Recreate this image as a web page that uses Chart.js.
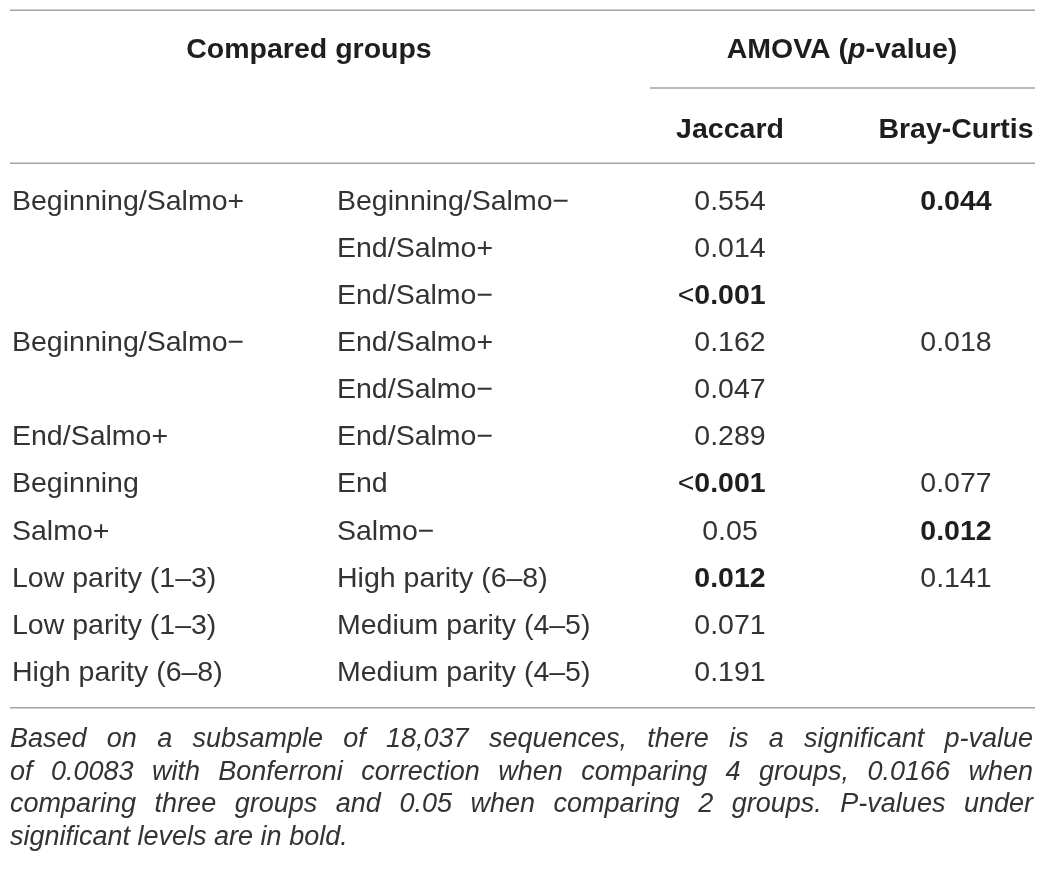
<!DOCTYPE html>
<html>
<head>
<meta charset="utf-8">
<script src="https://cdn.jsdelivr.net/npm/chart.js@4.4.1/dist/chart.umd.min.js"></script>
<style>
  html, body { margin: 0; padding: 0; background: #fff; }
  canvas { display: block; }
</style>
</head>
<body>
<canvas id="amova_table" width="1051" height="874"></canvas>
<script>
// table content
const groupA = ['Beginning/Salmo+', '', '', 'Beginning/Salmo\u2212', '', 'End/Salmo+', 'Beginning', 'Salmo+',
  'Low parity (1\u20133)', 'Low parity (1\u20133)', 'High parity (6\u20138)'];
const groupB = ['Beginning/Salmo\u2212', 'End/Salmo+', 'End/Salmo\u2212', 'End/Salmo+', 'End/Salmo\u2212', 'End/Salmo\u2212',
  'End', 'Salmo\u2212', 'High parity (6\u20138)', 'Medium parity (4\u20135)', 'Medium parity (4\u20135)'];
const jaccard = ['0.554', '0.014', '<0.001', '0.162', '0.047', '0.289', '<0.001', '0.05', '0.012', '0.071', '0.191'];
const jaccardBold = [false, false, true, false, false, false, true, false, true, false, false];
const brayCurtis = ['0.044', null, null, '0.018', null, null, '0.077', '0.012', '0.141', null, null];
const brayCurtisBold = [true, false, false, false, false, false, false, true, false, false, false];
const columnTitles = ['Jaccard', 'Bray-Curtis'];
const footnote = [
  'Based on a subsample of 18,037 sequences, there is a significant p-value',
  'of 0.0083 with Bonferroni correction when comparing 4 groups, 0.0166 when',
  'comparing three groups and 0.05 when comparing 2 groups. P-values under',
  'significant levels are in bold.'
];

const FONT = '"Liberation Sans", Arial, Helvetica, sans-serif';
const SIZE = 28.5;
const NOTE_SIZE = 27;
const INK = '#333333';
const INK_BOLD = '#1e1e1e';
const RULE = '#a3a3a3';
const TEXT_DY = 2;

// x scale runs in page pixels, y scale in table rows
const COL_A = 12, COL_B = 337, COL_J = 730, COL_BC = 956;
const LEFT = 10, RIGHT = 1035;
const ROW_H = 47.1, FIRST_ROW = 200;

function cells(values, bold, x) {
  const out = [];
  values.forEach((v, i) => {
    if (v !== null) out.push({ x: x, y: i, label: v, bold: bold[i] });
  });
  return out;
}

function hline(ctx, x0, x1, y) {
  ctx.beginPath();
  ctx.moveTo(x0, y);
  ctx.lineTo(x1, y);
  ctx.stroke();
}

function justify(ctx, line, x0, x1, y, last) {
  ctx.textAlign = 'left';
  if (last) { ctx.fillText(line, x0, y); return; }
  const words = line.split(' ');
  const used = words.reduce((s, w) => s + ctx.measureText(w).width, 0);
  const gap = (x1 - x0 - used) / (words.length - 1);
  let x = x0;
  words.forEach(w => {
    ctx.fillText(w, x, y);
    x += ctx.measureText(w).width + gap;
  });
}

const tableText = {
  id: 'tableText',
  afterDatasetsDraw(chart) {
    const ctx = chart.ctx;
    const px = v => chart.scales.x.getPixelForValue(v);
    const py = r => chart.scales.y.getPixelForValue(r);
    const ty = r => py(r) + TEXT_DY;
    ctx.save();
    ctx.textBaseline = 'middle';

    // rules
    ctx.strokeStyle = RULE;
    ctx.lineWidth = 1.5;
    hline(ctx, px(LEFT), px(RIGHT), py(-4.03));
    hline(ctx, px(650), px(RIGHT), py(-2.38));
    hline(ctx, px(LEFT), px(RIGHT), py(-0.78));
    hline(ctx, px(LEFT), px(RIGHT), py(10.78));

    // headers
    ctx.fillStyle = INK_BOLD;
    ctx.font = 'bold ' + SIZE + 'px ' + FONT;
    ctx.textAlign = 'center';
    ctx.fillText('Compared groups', px(309), ty(-3.23));
    ctx.fillText(columnTitles[0], px(COL_J), ty(-1.53));
    ctx.fillText(columnTitles[1], px(COL_BC), ty(-1.53));

    const parts = [['AMOVA (', 'bold '], ['p', 'italic bold '], ['-value)', 'bold ']];
    let w = 0;
    parts.forEach(p => { ctx.font = p[1] + SIZE + 'px ' + FONT; w += ctx.measureText(p[0]).width; });
    let x = px(842) - w / 2;
    ctx.textAlign = 'left';
    parts.forEach(p => {
      ctx.font = p[1] + SIZE + 'px ' + FONT;
      ctx.fillText(p[0], x, ty(-3.23));
      x += ctx.measureText(p[0]).width;
    });

    // compared groups
    ctx.fillStyle = INK;
    ctx.font = SIZE + 'px ' + FONT;
    ctx.textAlign = 'left';
    groupA.forEach((t, i) => ctx.fillText(t, px(COL_A), ty(i)));
    groupB.forEach((t, i) => ctx.fillText(t, px(COL_B), ty(i)));

    // p-values, placed by the dataset points
    chart.data.datasets.forEach((ds, d) => {
      chart.getDatasetMeta(d).data.forEach((pt, j) => {
        const cell = ds.data[j];
        const lt = cell.label.charAt(0) === '<';
        const num = lt ? cell.label.slice(1) : cell.label;
        ctx.fillStyle = cell.bold ? INK_BOLD : INK;
        ctx.font = (cell.bold ? 'bold ' : '') + SIZE + 'px ' + FONT;
        ctx.textAlign = 'center';
        ctx.fillText(num, pt.x, pt.y + TEXT_DY);
        if (lt) {
          const nw = ctx.measureText(num).width;
          ctx.font = SIZE + 'px ' + FONT;
          ctx.textAlign = 'right';
          ctx.fillText('<', pt.x - nw / 2, pt.y + TEXT_DY);
        }
      });
    });

    // footnote
    ctx.fillStyle = INK;
    ctx.font = 'italic ' + NOTE_SIZE + 'px ' + FONT;
    footnote.forEach((line, i) => {
      justify(ctx, line, px(LEFT), px(1033), ty(11.42 + i * 0.69), i === footnote.length - 1);
    });
    ctx.restore();
  }
};

const ctx = document.getElementById('amova_table').getContext('2d');

new Chart(ctx, {
  type: 'scatter',
  data: {
    datasets: [{
      label: columnTitles[0],
      data: cells(jaccard, jaccardBold, COL_J),
      pointRadius: 0,
      pointHoverRadius: 0
    }, {
      label: columnTitles[1],
      data: cells(brayCurtis, brayCurtisBold, COL_BC),
      pointRadius: 0,
      pointHoverRadius: 0
    }]
  },
  options: {
    responsive: false,
    animation: false,
    layout: { padding: 0 },
    plugins: {
      legend: { display: false },
      tooltip: { enabled: false }
    },
    events: [],
    scales: {
      x: { type: 'linear', display: false, min: 0, max: 1051 },
      y: {
        type: 'linear',
        display: false,
        reverse: true,
        min: -FIRST_ROW / ROW_H,
        max: (874 - FIRST_ROW) / ROW_H
      }
    }
  },
  plugins: [tableText]
});
</script>
</body>
</html>
